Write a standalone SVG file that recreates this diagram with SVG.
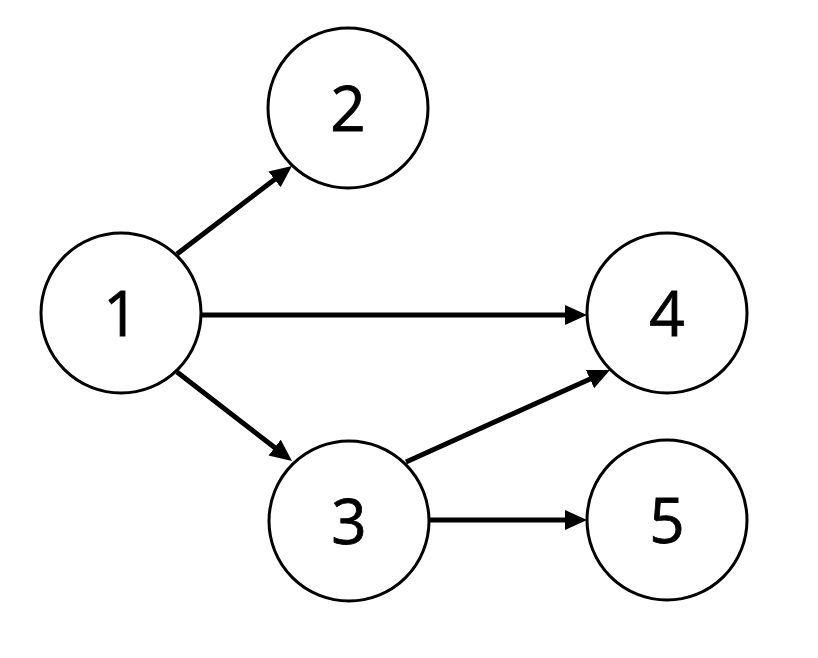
<svg xmlns="http://www.w3.org/2000/svg" width="818" height="658" viewBox="0 0 818 658">
<style>
.node circle{fill:#fff;stroke:#000;stroke-width:3}
.node text{font-family:"Open Sans","Liberation Sans",sans-serif;font-size:62px;fill:#000;stroke:#000;stroke-width:0.8;text-anchor:middle}
.edge{stroke:#000;stroke-width:5;fill:none;marker-end:url(#ah)}
</style>
<defs>
<marker id="ah" markerUnits="userSpaceOnUse" markerWidth="24" markerHeight="22" refX="2" refY="10" orient="auto" viewBox="0 0 24 22">
<path d="M0,0 L22,10 L0,20 z" fill="#000"/>
</marker>
</defs>
<rect width="818" height="658" fill="#fff"/>
<g id="connectors">
<line class="edge" x1="177" y1="254" x2="276.1" y2="178.2"/>
<line class="edge" x1="202" y1="315" x2="567" y2="315"/>
<line class="edge" x1="177" y1="372" x2="276.2" y2="448.8"/>
<line class="edge" x1="406" y1="462" x2="591.8" y2="378.2"/>
<line class="edge" x1="428" y1="520" x2="567" y2="520"/>
</g>
<g id="node1" class="node"><circle cx="121" cy="313" r="80"/><text x="121" y="336">1</text></g>
<g id="node2" class="node"><circle cx="348" cy="108" r="80"/><text x="348" y="131">2</text></g>
<g id="node3" class="node"><circle cx="349" cy="521" r="80"/><text x="349" y="544">3</text></g>
<g id="node4" class="node"><circle cx="667" cy="313" r="80"/><text x="667" y="336">4</text></g>
<g id="node5" class="node"><circle cx="667" cy="520" r="80"/><text x="667" y="543">5</text></g>
</svg>
